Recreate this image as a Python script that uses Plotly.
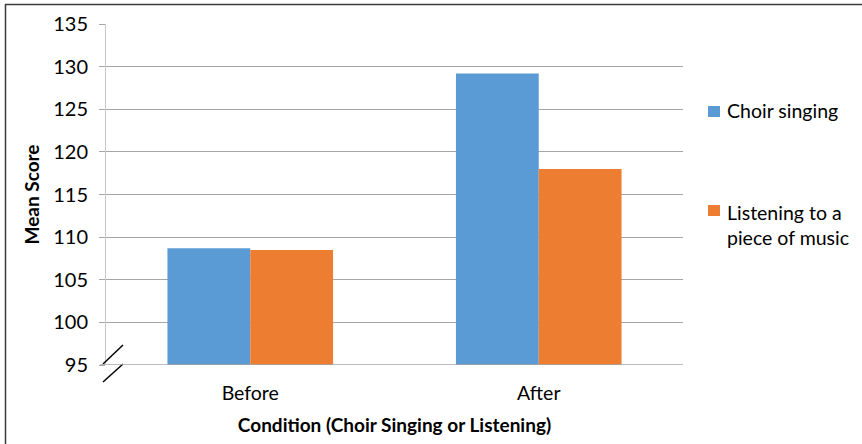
import plotly.graph_objects as go

# Mean scores before and after each condition
conditions = ["Before", "After"]
choir_singing = [108.7, 129.2]
listening_music = [108.5, 118.0]
series_names = ["Choir singing", "Listening to a<br>piece of music"]
series_colors = ["#5B9BD5", "#ED7D31"]
y_ticks = [95, 100, 105, 110, 115, 120, 125, 130, 135]

FONT = "Lato, 'Open Sans', sans-serif"

fig = go.Figure()
for vals, name, color in zip([choir_singing, listening_music], series_names, series_colors):
    fig.add_trace(go.Bar(
        x=conditions, y=vals, name=name,
        marker=dict(color=color, line=dict(width=0)),
        showlegend=False,
    ))

W, H = 862, 444
ml, mr, mt, mb = 106, 179, 24, 79
pw = W - ml - mr
ph = H - mt - mb


def px(x):
    return (x - ml) / pw


def py(y):
    return (H - mb - y) / ph


# legend: colour key squares with their labels
legend_rows = [(106, 109), (205, 211)]
for (sq_top, text_y), name, color in zip(legend_rows, series_names, series_colors):
    fig.add_shape(type="rect", xref="paper", yref="paper",
                  x0=px(708), x1=px(720), y0=py(sq_top), y1=py(sq_top + 11),
                  fillcolor=color, line=dict(width=0))
    fig.add_annotation(xref="paper", yref="paper", x=px(725), y=py(text_y - 12),
                       xanchor="left", yanchor="top", align="left",
                       text=name, showarrow=False,
                       font=dict(family=FONT, size=19.5, color="#000000"))

# axis-break marks at the foot of the value axis
for y0, y1 in [(364, 345), (382, 364)]:
    fig.add_shape(type="line", xref="paper", yref="paper",
                  x0=px(103), y0=py(y0), x1=px(123), y1=py(y1),
                  line=dict(color="#000000", width=1.5))

# frame lines along the top and left edges
fig.add_shape(type="line", xref="paper", yref="paper",
              x0=px(5), y0=py(4.5), x1=px(862), y1=py(4.5),
              line=dict(color="#3a3a3a", width=1.5))
fig.add_shape(type="line", xref="paper", yref="paper",
              x0=px(5.5), y0=py(4), x1=px(5.5), y1=py(444),
              line=dict(color="#3a3a3a", width=1.5))

fig.update_layout(
    width=W, height=H,
    margin=dict(l=ml, r=mr, t=mt, b=mb, autoexpand=False),
    paper_bgcolor="white", plot_bgcolor="white",
    barmode="group", bargap=0.426, bargroupgap=0,
    font=dict(family=FONT, size=19, color="#000000"),
    showlegend=False,
    xaxis=dict(
        showline=False, ticks="", showgrid=False,
        tickfont=dict(size=19.5), ticklabelstandoff=14,
        title=dict(text="<b>Condition (Choir Singing or Listening)</b>",
                   font=dict(size=19), standoff=16),
        automargin=False,
    ),
    yaxis=dict(
        range=[95, 135], tickvals=y_ticks,
        showgrid=True, gridcolor="#A6A6A6", gridwidth=1,
        showline=True, linecolor="#C8C8C8", linewidth=1,
        ticks="outside", ticklen=6, tickcolor="#A6A6A6",
        tickfont=dict(size=20), ticklabelstandoff=7,
        zeroline=False,
        title=dict(text="<b>Mean Score</b>", font=dict(size=19), standoff=8),
        automargin=False,
    ),
)
# baseline at the bottom of the value axis
fig.add_shape(type="line", xref="paper", yref="y",
              x0=px(100), y0=95, x1=1, y1=95,
              line=dict(color="#A6A6A6", width=1.5))

fig.write_html("out.html")
